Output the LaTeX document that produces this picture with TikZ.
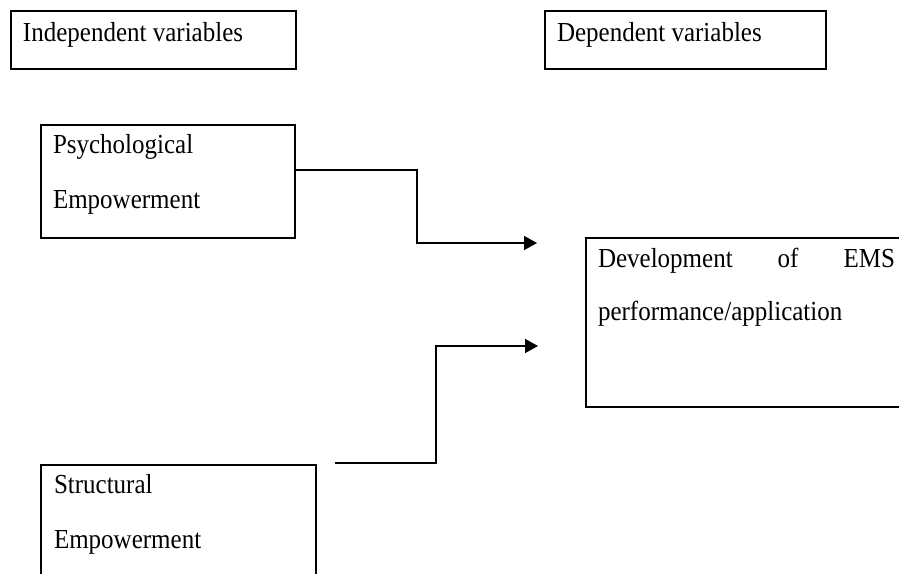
\documentclass[tikz,border=0pt]{standalone}
\usepackage{fontspec}
\setmainfont{Liberation Serif}
\usetikzlibrary{arrows.meta}
\usetikzlibrary{positioning}
\usetikzlibrary{calc}
\newcommand{\tall}[1]{\scalebox{1}[1.1]{#1}}

\begin{document}
\begin{tikzpicture}[x=1pt,y=-1pt,
  every node/.style={inner sep=0pt,outer sep=0pt},
  varbox/.style={draw,line width=1.6pt,anchor=north west},
  boxline/.style={anchor=base west,font=\fontsize{25}{30}\selectfont},
  link/.style={line width=1.6pt,-{Triangle[length=13pt,width=14pt]}}]
\clip (0,0) rectangle (899,573);
% headings
\node[varbox,minimum width=285pt,minimum height=58pt] (indep) at (11,11) {};
\node[boxline] (indeptext) at ($(indep.north west)+(12,30)$) {\tall{Independent variables}};
\node[varbox,minimum width=281pt,minimum height=58pt] (dep) at (545,11) {};
\node[boxline] (deptext) at ($(dep.north west)+(12,30)$) {\tall{Dependent variables}};
% variables
\node[varbox,minimum width=254pt,minimum height=113pt] (psych) at (41,125) {};
\node[boxline] (psychone) at ($(psych.north west)+(12,28)$) {\tall{Psychological}};
\node[boxline] (psychtwo) at ($(psych.north west)+(12,83)$) {\tall{Empowerment}};
\node[varbox,minimum width=275pt,minimum height=130pt] (struct) at (41,465) {};
\node[boxline] (structone) at ($(struct.north west)+(13,28)$) {\tall{Structural}};
\node[boxline] (structtwo) at ($(struct.north west)+(13,83)$) {\tall{Empowerment}};
\node[varbox,minimum width=330pt,minimum height=169pt] (dev) at (586,238) {};
\node[boxline,text width=297pt] (devone) at ($(dev.north west)+(12,29)$) {\tall{Development}\hfill\tall{of}\hfill\tall{EMS}};
\node[boxline] (devtwo) at ($(dev.north west)+(12,82)$) {\tall{performance/application}};
% links
\coordinate (psychout) at ($(psych.north east)+(0,45)$);
\coordinate (structout) at ($(struct.north east)+(19,-2)$);
\coordinate (tipone) at ($(dev.north west)+(-49,5)$);
\coordinate (tiptwo) at ($(dev.north west)+(-48,108)$);
\draw[link] (psychout) -- ++(122,0) |- (tipone);
\draw[link] (structout) -- ++(101,0) |- (tiptwo);
\end{tikzpicture}
\end{document}
